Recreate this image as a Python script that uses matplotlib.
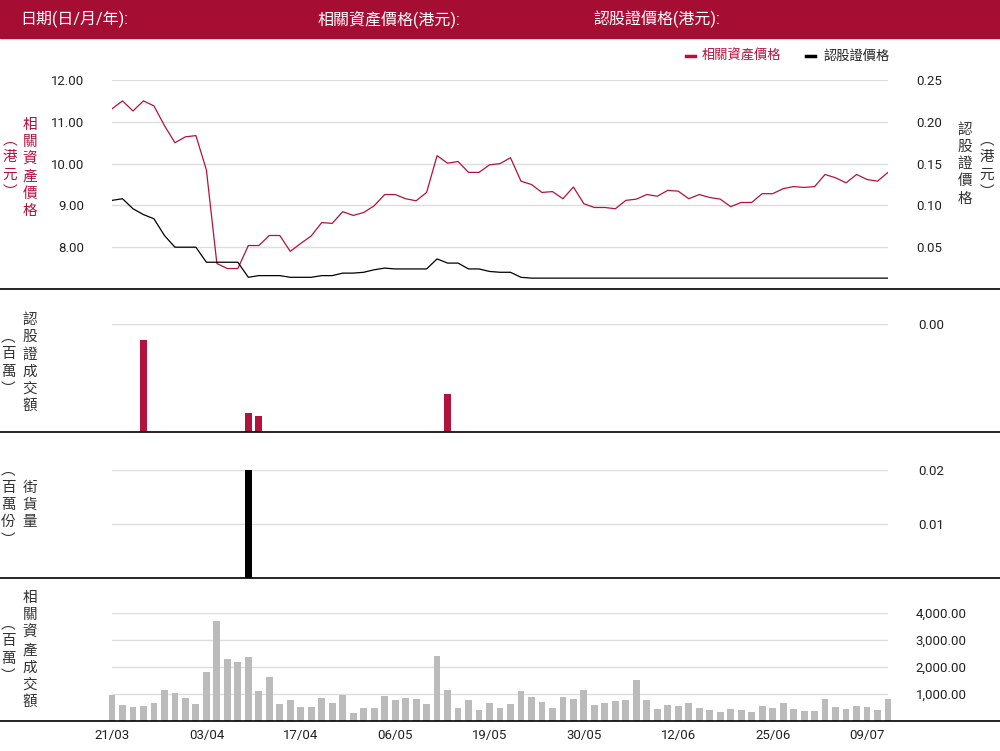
import matplotlib
matplotlib.use("Agg")
import matplotlib.pyplot as plt
from matplotlib.lines import Line2D

plt.rcParams['font.family'] = ['Roboto', 'Noto Sans CJK TC', 'DejaVu Sans']

# trading days (dd/mm)
dates = ['21/03', '24/03', '25/03', '26/03', '27/03', '28/03', '31/03',
         '01/04', '02/04', '03/04', '07/04', '08/04', '09/04', '10/04', '11/04',
         '14/04', '15/04', '16/04', '17/04', '22/04', '23/04', '24/04', '25/04',
         '28/04', '29/04', '30/04', '02/05', '06/05', '07/05', '08/05', '09/05',
         '12/05', '13/05', '14/05', '15/05', '16/05', '19/05', '20/05', '21/05',
         '22/05', '23/05', '26/05', '27/05', '28/05', '29/05', '30/05',
         '02/06', '03/06', '04/06', '05/06', '06/06', '09/06', '10/06', '11/06',
         '12/06', '13/06', '16/06', '17/06', '18/06', '19/06', '20/06', '23/06',
         '24/06', '25/06', '26/06', '27/06', '30/06', '02/07', '03/07', '04/07',
         '07/07', '08/07', '09/07', '10/07', '11/07']
tick_labels = ['21/03', '03/04', '17/04', '06/05', '19/05', '30/05', '12/06', '25/06', '09/07']

# underlying price (HKD)
asset_price = [11.31, 11.50, 11.26, 11.50, 11.38, 10.91, 10.50, 10.64, 10.67, 9.85,
               7.61, 7.49, 7.49, 8.04, 8.04, 8.28, 8.28, 7.90, 8.09, 8.27,
               8.59, 8.57, 8.85, 8.76, 8.83, 8.99, 9.26, 9.26, 9.16, 9.11,
               9.31, 10.19, 10.01, 10.05, 9.79, 9.79, 9.97, 10.00, 10.14, 9.58,
               9.50, 9.31, 9.33, 9.16, 9.44, 9.04, 8.95, 8.95, 8.92, 9.12,
               9.15, 9.26, 9.22, 9.36, 9.34, 9.16, 9.26, 9.19, 9.15, 8.97,
               9.07, 9.07, 9.28, 9.28, 9.40, 9.45, 9.43, 9.45, 9.74, 9.66,
               9.54, 9.74, 9.62, 9.58, 9.79]
# warrant price (HKD)
warrant_price = [0.106, 0.108, 0.096, 0.089, 0.084, 0.064, 0.050, 0.050, 0.050, 0.032,
                 0.032, 0.032, 0.032, 0.014, 0.016, 0.016, 0.016, 0.014, 0.014, 0.014,
                 0.016, 0.016, 0.019, 0.019, 0.020, 0.023, 0.025, 0.024, 0.024, 0.024,
                 0.024, 0.036, 0.031, 0.031, 0.024, 0.024, 0.021, 0.020, 0.020, 0.014,
                 0.013, 0.013, 0.013, 0.013, 0.013, 0.013, 0.013, 0.013, 0.013, 0.013,
                 0.013, 0.013, 0.013, 0.013, 0.013, 0.013, 0.013, 0.013, 0.013, 0.013,
                 0.013, 0.013, 0.013, 0.013, 0.013, 0.013, 0.013, 0.013, 0.013, 0.013,
                 0.013, 0.013, 0.013, 0.013, 0.013]
# warrant turnover (HKD mn) - only days with trades
wt_days = ['26/03', '10/04', '11/04', '13/05']
wt_values = [0.0034, 0.0007, 0.0006, 0.0014]
# outstanding quantity (mn units)
os_days = ['10/04']
os_values = [0.02]
# underlying turnover (HKD mn)
asset_turnover = [951, 580, 506, 543, 654, 1136, 1025, 840, 617, 1802,
                  3691, 2284, 2173, 2358, 1099, 1617, 617, 765, 506, 506,
                  840, 654, 951, 284, 469, 469, 914, 765, 840, 802,
                  617, 2395, 1136, 469, 765, 395, 654, 469, 617, 1099,
                  877, 691, 469, 877, 802, 1136, 580, 654, 728, 765,
                  1506, 765, 432, 580, 543, 654, 469, 395, 321, 432,
                  395, 321, 543, 469, 654, 432, 358, 358, 802, 506,
                  432, 543, 506, 395, 802]

RED = '#B3123C'
HEAD = '#A50E32'
GRID = '#DDDDDD'
TXT = '#333333'
W, H = 1000, 751

fig = plt.figure(figsize=(W / 100, H / 100), dpi=100)
x = list(range(len(dates)))


def panel(top, bottom):
    ax = fig.add_axes([112 / W, 1 - bottom / H, 776 / W, (bottom - top) / H])
    for s in ax.spines.values():
        s.set_visible(False)
    ax.set_xlim(0, len(dates) - 1)
    ax.tick_params(length=0, labelsize=9.5, colors='#222222')
    ax.set_xticks([])
    ax.set_axisbelow(True)
    return ax


def vtext(xp, yp, s, color=TXT, size=10.5):
    fig.text(xp / W, 1 - yp / H, '\n'.join(s), ha='center', va='center',
             color=color, fontsize=size, linespacing=1.3)


# header
fig.patches.append(plt.Rectangle((0, 1 - 38 / H), 1, 38 / H, transform=fig.transFigure,
                                 color=HEAD, zorder=0))
for xp, s in [(20, '日期(日/月/年):'), (318, '相關資產價格(港元):'), (593, '認股證價格(港元):')]:
    fig.text(xp / W, 1 - 19 / H, s, color='white', fontsize=11.5, va='center', ha='left')

# panel 1: prices
ax1 = panel(80, 289)
ax1.set_ylim(7, 12)
ax1.set_yticks([8, 9, 10, 11, 12])
ax1.yaxis.set_major_formatter(lambda v, p: f'{v:.2f}')
ax1.tick_params(axis='y', pad=20)
ax1.grid(axis='y', color=GRID, lw=1)
ax1.plot(x, asset_price, color=RED, lw=0.9, zorder=3)
ax1b = ax1.twinx()
for s in ax1b.spines.values():
    s.set_visible(False)
ax1b.set_ylim(0, 0.25)
ax1b.set_yticks([0.05, 0.10, 0.15, 0.20, 0.25])
ax1b.yaxis.set_major_formatter(lambda v, p: f'{v:.2f}')
ax1b.tick_params(length=0, labelsize=9.5, colors='#222222', pad=20)
ax1b.plot(x, warrant_price, color='black', lw=0.9)

# legend
fig.add_artist(Line2D([686 / W, 695 / W], [1 - 56 / H] * 2, color=RED, lw=2.5))
fig.text(702 / W, 1 - 56 / H, '相關資產價格', color=RED, fontsize=9.5, va='center')
fig.add_artist(Line2D([806 / W, 815 / W], [1 - 56 / H] * 2, color='black', lw=2.5))
fig.text(823 / W, 1 - 56 / H, '認股證價格', color='#222222', fontsize=9.5, va='center')

# panel 2: warrant turnover
ax2 = panel(324, 432)
ax2.yaxis.tick_right()
ax2.set_ylim(0, 0.004)
ax2.set_yticks([0.004])
ax2.yaxis.set_major_formatter(lambda v, p: f'{v:.2f}')
ax2.tick_params(axis='y', pad=22)
ax2.grid(axis='y', color=GRID, lw=1)
ax2.bar([dates.index(d) for d in wt_days], wt_values, width=0.65, color=RED, clip_on=False)

# panel 3: outstanding
ax3 = panel(470, 578)
ax3.yaxis.tick_right()
ax3.set_ylim(0, 0.02)
ax3.set_yticks([0.01, 0.02])
ax3.yaxis.set_major_formatter(lambda v, p: f'{v:.2f}')
ax3.tick_params(axis='y', pad=22)
ax3.grid(axis='y', color=GRID, lw=1)
ax3.bar([dates.index(d) for d in os_days], os_values, width=0.65, color='black', clip_on=False)

# panel 4: underlying turnover
ax4 = panel(613, 721)
ax4.yaxis.tick_right()
ax4.set_ylim(0, 4000)
ax4.set_yticks([1000, 2000, 3000, 4000])
ax4.yaxis.set_major_formatter(lambda v, p: f'{v:,.2f}')
ax4.tick_params(axis='y', pad=20)
ax4.grid(axis='y', color=GRID, lw=1)
ax4.bar(x, asset_turnover, width=0.65, color='#BBBBBB', clip_on=False)
ax4.set_xticks([dates.index(t) for t in tick_labels])
ax4.set_xticklabels(tick_labels)
ax4.tick_params(axis='x', pad=6)

# separators
for yp in [289, 432, 578, 721]:
    fig.add_artist(Line2D([0, 1], [1 - yp / H] * 2, color='black', lw=1.2))

# axis titles
vtext(30, 168, '相關資產價格', color=RED)
vtext(10, 166, '︵港元︶', color=RED)
vtext(965, 164, '認股證價格')
vtext(987, 166, '︵港元︶')
vtext(30, 363, '認股證成交額')
vtext(8, 363, '︵百萬︶')
vtext(30, 505, '街貨量')
vtext(8, 505, '︵百萬份︶')
vtext(30, 650, '相關資產成交額')
vtext(8, 650, '︵百萬︶')

fig.savefig('out.png', dpi=100)
